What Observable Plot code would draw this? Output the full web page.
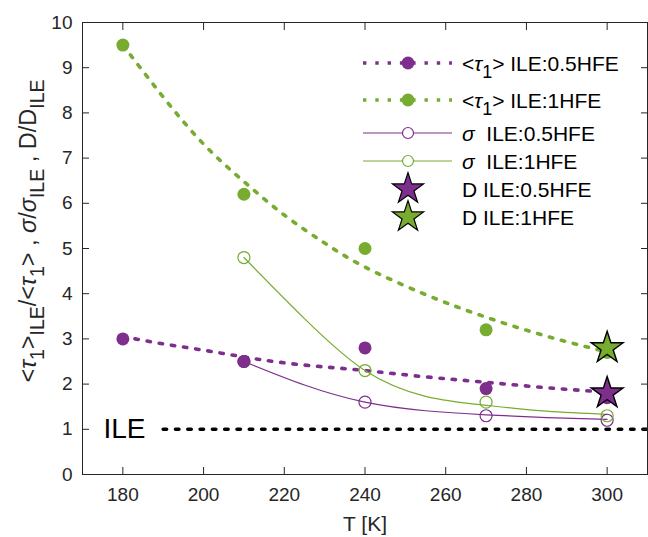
<!DOCTYPE html>
<html><head><meta charset="utf-8">
<script src="https://cdn.jsdelivr.net/npm/d3@7"></script>
<script src="https://cdn.jsdelivr.net/npm/@observablehq/plot@0.6"></script>
<style>
body{margin:0;background:#fff}
#chart{position:relative;width:648px;height:537px}
svg text{font-family:"Liberation Sans",Arial,sans-serif}
</style>
</head><body><div id="chart"></div>
<script>
// measured points
const T = [180, 210, 240, 270, 300];
const tau05 = [3.0, 2.5, 2.8, 1.9, 1.7];
const tau1 = [9.5, 6.2, 5.0, 3.2, 2.7];
const sigmaT = [210, 240, 270, 300];
const sigma05 = [2.5, 1.6, 1.3, 1.2];
const sigma1 = [4.8, 2.3, 1.6, 1.3];
const DT = [300];
const D05 = [1.8];
const D1 = [2.8];
// fitted curves
const fitTauT = [180, 190, 200, 210, 220, 230, 240, 255, 270, 285, 300];
const fitTau05 = [3.05, 2.89, 2.75, 2.60, 2.47, 2.38, 2.30, 2.16, 2.04, 1.92, 1.82];
const fitTau1 = [9.5, 8.35, 7.31, 6.48, 5.74, 5.12, 4.59, 3.98, 3.48, 3.06, 2.71];
const fitSigmaT = [210, 225, 240, 255, 270, 285, 300];
const fitSigma05 = [2.5, 1.98, 1.60, 1.41, 1.32, 1.26, 1.22];
const fitSigma1 = [4.8, 3.45, 2.3, 1.73, 1.53, 1.40, 1.33];
// ILE reference
const ileT = [190, 310];
const ileV = [1, 1];
const ileLabel = ["ILE"];
// ticks
const xTicks = [180, 200, 220, 240, 260, 280, 300];
const yTicks = [0, 1, 2, 3, 4, 5, 6, 7, 8, 9, 10];

const purple = "#7E2F8E", green = "#77AC30", ink = "#262626";
const rows = (xs, ys) => xs.map((x, i) => ({x, y: ys[i]}));
const dotted = {strokeWidth: 3.6, strokeDasharray: "3.4,8.9"};

const plot = Plot.plot({
  width: 648, height: 537,
  marginLeft: 82, marginRight: 1, marginTop: 22, marginBottom: 63,
  x: {domain: [170, 310]},
  y: {domain: [0, 10]},
  style: {fontFamily: '"Liberation Sans",Arial,sans-serif', fontSize: "19px", color: ink, background: "white", overflow: "visible"},
  marks: [
    Plot.line(rows(ileT, ileV), {x: "x", y: "y", stroke: "black", ...dotted}),
    Plot.text(ileLabel, {y: ileV.slice(0, 1), frameAnchor: "left", dx: 21, textAnchor: "start", fontSize: 28, fill: "black", text: d => d}),
    Plot.line(rows(fitTauT, fitTau05), {x: "x", y: "y", stroke: purple, curve: "natural", ...dotted}),
    Plot.line(rows(fitTauT, fitTau1), {x: "x", y: "y", stroke: green, curve: "natural", ...dotted}),
    Plot.dot(rows(T, tau05), {x: "x", y: "y", r: 6.5, fill: purple}),
    Plot.dot(rows(T, tau1), {x: "x", y: "y", r: 6.5, fill: green}),
    Plot.line(rows(fitSigmaT, fitSigma05), {x: "x", y: "y", stroke: purple, strokeWidth: 1.2, curve: "natural"}),
    Plot.line(rows(fitSigmaT, fitSigma1), {x: "x", y: "y", stroke: green, strokeWidth: 1.2, curve: "natural"}),
    Plot.dot(rows(sigmaT, sigma05), {x: "x", y: "y", r: 6, stroke: purple, strokeWidth: 1.2, fill: "none"}),
    Plot.dot(rows(sigmaT, sigma1), {x: "x", y: "y", r: 6, stroke: green, strokeWidth: 1.2, fill: "none"}),
    Plot.dot(rows(DT, D05), {x: "x", y: "y", symbol: "star", r: 10, fill: purple, stroke: "black", strokeWidth: 1.4}),
    Plot.dot(rows(DT, D1), {x: "x", y: "y", symbol: "star", r: 10, fill: green, stroke: "black", strokeWidth: 1.4}),
    Plot.frame({stroke: ink}),
    Plot.axisX(xTicks, {anchor: "bottom", tickSize: 0, tickPadding: 13, label: null}),
    Plot.axisX(xTicks, {anchor: "bottom", tickSize: -7, tickFormat: () => "", label: null, stroke: ink}),
    Plot.axisX(xTicks, {anchor: "top", tickSize: -7, tickFormat: () => "", label: null, stroke: ink}),
    Plot.axisY(yTicks, {anchor: "left", tickSize: 0, tickPadding: 10, label: null}),
    Plot.axisY(yTicks, {anchor: "left", tickSize: -7, tickFormat: () => "", label: null, stroke: ink}),
    Plot.axisY(yTicks, {anchor: "right", tickSize: -7, tickFormat: () => "", label: null, stroke: ink})
  ]
});
document.getElementById("chart").appendChild(plot);

const svg = d3.select(plot);
// x label
svg.append("text").attr("x", 365).attr("y", 531).attr("text-anchor", "middle")
  .attr("fill", ink).style("font-size", "21px").text("T [K]");

// y label with sub-scripts
const yl = svg.append("text").attr("transform", "translate(36,231) rotate(-90)")
  .attr("text-anchor", "middle").attr("fill", ink).style("font-size", "23.5px");
const parts = [
  ["<", ""], ["τ", "it"], ["1", "sub"], [">", ""], ["ILE", "sub"], ["/<", ""], ["τ", "it"], ["1", "sub"], [">", ""],
  [" , ", ""], ["σ", "it"], ["/", ""], ["σ", "it"], ["ILE", "sub"], [" , D/D", ""], ["ILE", "sub"]
];
let down = false;
for (const [t, k] of parts) {
  const ts = yl.append("tspan").attr("xml:space", "preserve").text(t);
  if (k === "sub") { ts.style("font-size", "19.5px"); if (!down) { ts.attr("dy", "8"); down = true; } }
  else { if (down) { ts.attr("dy", "-8"); down = false; } }
  if (k === "it") ts.style("font-style", "italic");
}

// legend
const lg = svg.append("g").attr("text-anchor", "start");
const legendRows = [
  {y: 63, color: purple, line: "dot", marker: "filled", text: [["<", ""], ["τ", "it"], ["1", "sub"], ["> ILE:0.5HFE", ""]]},
  {y: 100, color: green, line: "dot", marker: "filled", text: [["<", ""], ["τ", "it"], ["1", "sub"], ["> ILE:1HFE", ""]]},
  {y: 133, color: purple, line: "solid", marker: "open", text: [["σ", "it"], ["  ILE:0.5HFE", ""]]},
  {y: 161, color: green, line: "solid", marker: "open", text: [["σ", "it"], ["  ILE:1HFE", ""]]},
  {y: 189, color: purple, line: null, marker: "star", text: [["D ILE:0.5HFE", ""]]},
  {y: 217, color: green, line: null, marker: "star", text: [["D ILE:1HFE", ""]]}
];
const star = d3.symbol(d3.symbolStar, 300);
for (const r of legendRows) {
  if (r.line === "dot") lg.append("line").attr("x1", 363).attr("x2", 452).attr("y1", r.y).attr("y2", r.y)
    .attr("stroke", r.color).attr("stroke-width", 3.6).attr("stroke-dasharray", "3.4,8.9");
  if (r.line === "solid") lg.append("line").attr("x1", 363).attr("x2", 452).attr("y1", r.y).attr("y2", r.y)
    .attr("stroke", r.color).attr("stroke-width", 1.2);
  if (r.marker === "filled") lg.append("circle").attr("cx", 408).attr("cy", r.y).attr("r", 6.5).attr("fill", r.color);
  if (r.marker === "open") lg.append("circle").attr("cx", 408).attr("cy", r.y).attr("r", 5.5).attr("fill", "white").attr("stroke", r.color).attr("stroke-width", 1.2);
  if (r.marker === "star") lg.append("path").attr("d", star()).attr("transform", `translate(408,${r.y})`)
    .attr("fill", r.color).attr("stroke", "black").attr("stroke-width", 1.2);
  const t = lg.append("text").attr("x", 462).attr("y", r.y + 7.5).attr("text-anchor", "start").attr("fill", "black").style("font-size", "21px");
  let dn = false;
  for (const [s, k] of r.text) {
    const ts = t.append("tspan").attr("xml:space", "preserve").text(s);
    if (k === "sub") { ts.style("font-size", "18px"); ts.attr("dy", "7"); dn = true; }
    else if (dn) { ts.attr("dy", "-7"); dn = false; }
    if (k === "it") ts.style("font-style", "italic");
  }
}
</script>
</body></html>
